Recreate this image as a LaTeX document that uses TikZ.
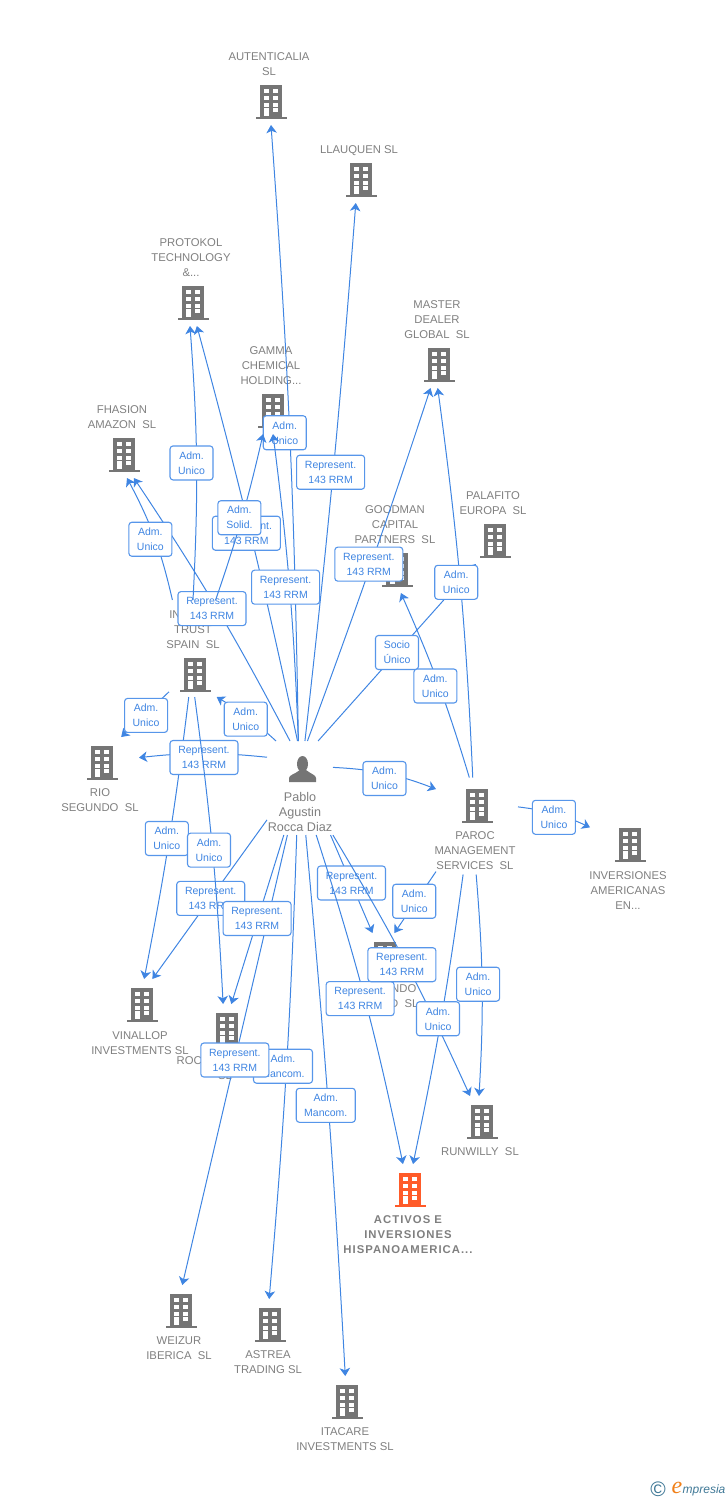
\documentclass[tikz,border=0pt]{standalone}
\usepackage{fontspec}
\setmainfont{Liberation Sans}
\newfontfamily\markfont{Liberation Serif}
\usepackage{tikz}
\usetikzlibrary{positioning, arrows.meta}

\definecolor{linkBlue}{HTML}{3F85E2}
\definecolor{boxBlue}{HTML}{5796EA}
\definecolor{iconGray}{HTML}{757575}
\definecolor{textGray}{HTML}{7F7F7F}
\definecolor{mainOrange}{HTML}{FF5B29}
\definecolor{markBlue}{HTML}{3F7896}
\definecolor{markOrange}{HTML}{F08019}

\tikzset{
    building/.pic={
        \fill[pic actions] (-11,-15.5) rectangle (11,17);
        \fill[pic actions] (-15.5,16) rectangle (15.5,18.5);
        \foreach \wy in {-11.5,-4.5,2.5}{
            \fill[white] (-7,\wy) rectangle (-2,\wy+4);
            \fill[white] (2,\wy) rectangle (7,\wy+4);
        }
        \fill[white] (-7,7.5) rectangle (-2,15.5);
        \fill[white] (2,7.5) rectangle (7,11.5);
    },
    person/.pic={
        \fill[pic actions] (-0.5,-5) ellipse (5.5 and 8);
        \fill[pic actions] (-14,13) -- (-14,9) .. controls (-14,6) and (-8,5) .. (-3,1) -- (3,1) .. controls (8,5) and (13,6) .. (13,9) -- (13,13) -- cycle;
    }
}

\begin{document}
\begin{tikzpicture}[x=1pt, y=-1pt,
    bldg/.style={minimum width=74pt, minimum height=49pt, inner sep=0pt, outer sep=0pt},
    srcbox/.style={inner sep=0pt, outer sep=0pt},
    grayicon/.style={fill=iconGray},
    ent/.style={font=\fontsize{11.3}{15}\selectfont, text=textGray, align=center, inner sep=0pt},
    rel/.style={draw=boxBlue, line width=1.1pt, fill=white, rounded corners=3pt, text=linkBlue, font=\fontsize{10.5}{15}\selectfont, align=center, inner sep=0pt, minimum height=34pt},
    repr/.style={rel, minimum width=68pt},
    adm/.style={rel, minimum width=43pt},
    manc/.style={rel, minimum width=59pt},
    msg/.style={-{Stealth[length=8pt, width=10.5pt, inset=2.2pt]}, draw=linkBlue, line width=1pt}]
    \useasboundingbox (0,0) rectangle (728,1500);

    % companies
    \node[bldg] (autenticalia) at (271,100.5) {};
    \pic[grayicon] at (autenticalia) {building};
    \node[ent, above=0pt of autenticalia, xshift=-2pt] (autenticaliaTxt) {AUTENTICALIA\\SL};

    \node[bldg] (llauquen) at (361,178.5) {};
    \pic[grayicon] at (llauquen) {building};
    \node[ent, above=-2pt of llauquen, xshift=-2pt] (llauquenTxt) {LLAUQUEN SL};

    \node[bldg] (protokol) at (193,301.5) {};
    \pic[grayicon] at (protokol) {building};
    \node[ent, above=0pt of protokol, xshift=-2pt] (protokolTxt) {PROTOKOL\\TECHNOLOGY\\\&...};

    \node[bldg] (master) at (439,363.5) {};
    \pic[grayicon] at (master) {building};
    \node[ent, above=0pt of master, xshift=-2pt] (masterTxt) {MASTER\\DEALER\\GLOBAL\ \ SL};

    \node[bldg] (gamma) at (273,409.5) {};
    \pic[grayicon] at (gamma) {building};
    \node[ent, above=0pt of gamma, xshift=-2pt] (gammaTxt) {GAMMA\\CHEMICAL\\HOLDING...};

    \node[bldg] (fhasion) at (124,453.5) {};
    \pic[grayicon] at (fhasion) {building};
    \node[ent, above=0pt of fhasion, xshift=-2pt] (fhasionTxt) {FHASION\\AMAZON\ \ SL};

    \node[bldg] (palafito) at (495,539.5) {};
    \pic[grayicon] at (palafito) {building};
    \node[ent, above=0pt of palafito, xshift=-2pt] (palafitoTxt) {PALAFITO\\EUROPA\ \ SL};

    \node[bldg] (goodman) at (397,568.5) {};
    \pic[grayicon] at (goodman) {building};
    \node[ent, above=0pt of goodman, xshift=-2pt] (goodmanTxt) {GOODMAN\\CAPITAL\\PARTNERS\ \ SL};

    \node[bldg] (trust) at (195,673.5) {};
    \pic[grayicon] at (trust) {building};
    \node[ent, above=0pt of trust, xshift=-2pt] (trustTxt) {IN\hspace*{36pt}\\TRUST\\SPAIN\ \ SL};
    \node[srcbox, minimum width=48pt, minimum height=97pt] (trustBox) at (193,648.5) {};

    \node[bldg] (rio) at (102,761.5) {};
    \pic[grayicon] at (rio) {building};
    \node[ent, below=2pt of rio, xshift=-2pt] (rioTxt) {RIO\\SEGUNDO\ \ SL};

    \node[bldg] (paroc) at (477,804.5) {};
    \pic[grayicon] at (paroc) {building};
    \node[ent, below=2pt of paroc, xshift=-2pt] (parocTxt) {PAROC\\MANAGEMENT\\SERVICES\ \ SL};
    \node[srcbox, minimum width=82pt, minimum height=97pt] (parocBox) at (477,826) {};

    \node[bldg, minimum width=80pt] (invam) at (630,843.5) {};
    \pic[grayicon] at (invam) {building};
    \node[ent, below=3pt of invam, xshift=-2pt] (invamTxt) {INVERSIONES\\AMERICANAS\\EN...};

    \node[bldg] (segundo) at (385,957.5) {};
    \pic[grayicon] at (segundo) {building};
    \node[ent, below=2pt of segundo, xshift=-2pt] (segundoTxt) {\hspace*{41.6pt}NDO\\\hspace*{42.5pt}D\ \ SL};

    \node[bldg] (vinallop) at (142,1003.5) {};
    \pic[grayicon] at (vinallop) {building};
    \node[ent, below=3pt of vinallop, xshift=-2pt] (vinallopTxt) {VINALLOP\\INVESTMENTS SL};

    \node[bldg] (roc) at (227,1028.5) {};
    \pic[grayicon] at (roc) {building};
    \node[ent, below=3pt of roc, xshift=-2pt] (rocTxt) {ROC\hspace*{71.6pt}\\SL};

    \node[bldg] (runwilly) at (482,1120.5) {};
    \pic[grayicon] at (runwilly) {building};
    \node[ent, below=2pt of runwilly, xshift=-2pt] (runwillyTxt) {RUNWILLY\ \ SL};

    \node[bldg] (activos) at (410,1188.5) {};
    \pic[fill=mainOrange] at (activos) {building};
    \node[ent, below=2pt of activos, xshift=-2pt] (activosTxt) {\addfontfeature{LetterSpace=9}\bfseries ACTIVOS E\\\addfontfeature{LetterSpace=9}\bfseries INVERSIONES\\\addfontfeature{LetterSpace=9}\bfseries HISPANOAMERICA...};

    \node[bldg] (weizur) at (181,1309.5) {};
    \pic[grayicon] at (weizur) {building};
    \node[ent, below=3pt of weizur, xshift=-2pt] (weizurTxt) {WEIZUR\\IBERICA\ \ SL};

    \node[bldg] (astrea) at (270,1323.5) {};
    \pic[grayicon] at (astrea) {building};
    \node[ent, below=2pt of astrea, xshift=-2pt] (astreaTxt) {ASTREA\\TRADING SL};

    \node[bldg] (itacare) at (347,1400.5) {};
    \pic[grayicon] at (itacare) {building};
    \node[ent, below=2pt of itacare, xshift=-2pt] (itacareTxt) {ITACARE\\INVESTMENTS SL};

    % the person
    \node[srcbox, minimum width=66pt, minimum height=94pt] (pablo) at (300,788) {};
    \pic[grayicon] at (303,769) {person};
    \node[ent, font=\fontsize{12.6}{15}\selectfont] (pabloTxt) at (300,812) {Pablo\\Agustin\\Rocca Diaz};

    % links, upper left
    \path (pablo.102) edge[msg, bend right=3] node[repr, xshift=-4pt, yshift=-1.5pt] {Represent.\\143 RRM} (fhasion.292.2);
    \path (trustBox.113.4) edge[msg, bend right=7.5] node[adm, xshift=-4pt, yshift=-2pt] {Adm.\\Unico} (fhasion.277);
    \path (pablo.92.4) edge[msg, bend right=1.6] node[adm, xshift=-5pt] {Adm.\\Unico} (autenticalia.270);
    \path (pablo.84) edge[msg, bend right=1] node[repr, xshift=-2.5pt] {Represent.\\143 RRM} (llauquen.258.5);
    \path (pablo.93.6) edge[msg, bend right=1.5] node[repr, xshift=-4pt, yshift=-0.5pt] {Represent.\\143 RRM} (protokol.279.3);
    \path (trustBox.90) edge[msg, bend right=3.6] node[adm, xshift=-5pt] {Adm.\\Unico} (protokol.263);
    \path (pablo.92.4) edge[msg, bend right=2.5] node[repr, xshift=-4pt] {Represent.\\143 RRM} (gamma.270);
    \path (trustBox.65.6) edge[msg, bend right=3] node[adm, xshift=-2.5pt] {Adm.\\Solid.} (gamma.248.8);

    % links, upper right
    \path (pablo.81.5) edge[msg, bend right=1] node[repr, xshift=-2pt, yshift=1pt] {Represent.\\143 RRM} (master.251.9);
    \path (pablo.69) edge[msg] node[adm] {Socio\\Único} (palafito.232.2);
    \path (parocBox.95.9) edge[msg, bend right=2.5] node[adm, xshift=-4pt] {Adm.\\Unico} (master.267.7);
    \path (parocBox.99.4) edge[msg, bend right=3.5] node[adm, xshift=-3pt, yshift=-2pt] {Adm.\\Unico} (goodman.279.3);

    % links, left
    \path (pablo.117) edge[msg, bend right=6] node[adm, xshift=-2pt, yshift=-2pt] {Adm.\\Unico} (trustBox.-64.6);
    \path (trustBox.241.7) edge[msg] node[adm, xshift=1pt, yshift=-1pt] {Adm.\\Unico} (rio.52.2);
    \path (trustBox.265.3) edge[msg, bend left=2] node[adm, xshift=-2.5pt] {Adm.\\Unico} (vinallop.85.3);
    \path (pablo.137.7) edge[msg, bend right=6] node[repr, xshift=1pt, yshift=-4pt] {Represent.\\143 RRM} (rio.6.9);
    \path (pablo.224) edge[msg] node[repr, xshift=1pt, yshift=1pt] {Represent.\\143 RRM} (vinallop.67.8);
    \path (trustBox.272.4) edge[msg, bend left=2.3] node[adm, xshift=-3.5pt] {Adm.\\Unico} (roc.99.3);

    % links, down
    \path (pablo.266.3) edge[msg, bend left=1.5] node[manc, xshift=-3.5pt, yshift=1pt] {Adm.\\Mancom.} (astrea.92.3);
    \path (pablo.255.7) edge[msg] node[repr] {Represent.\\143 RRM} (weizur.87.7);
    \path (pablo.251.2) edge[msg] node[repr, xshift=-0.5pt, yshift=1pt] {Represent.\\143 RRM} (roc.80.7);
    \path (pablo.277.3) edge[msg, bend left=1] node[manc, xshift=-2.5pt] {Adm.\\Mancom.} (itacare.94.7);

    % links, lower right
    \path (pablo.303.4) edge[msg] node[repr, yshift=1pt] {Represent.\\143 RRM} (segundo.117.9);
    \path (parocBox.228.9) edge[msg] node[adm, xshift=-1pt, yshift=1pt] {Adm.\\Unico} (segundo.69.8);
    \path (pablo.289.9) edge[msg, bend left=3] node[repr, xshift=-4.5pt, yshift=-0.5pt] {Represent.\\143 RRM} (activos.106);
    \path (pablo.305) edge[msg, bend left=3.3] node[repr, xshift=-4pt, yshift=-1.5pt] {Represent.\\143 RRM} (runwilly.116.1);
    \path (parocBox.254) edge[msg, bend left=2] node[adm, xshift=-3pt, yshift=1pt] {Adm.\\Unico} (activos.83);
    \path (parocBox.269) edge[msg, bend left=4] node[adm, xshift=-4pt, yshift=1pt] {Adm.\\Unico} (runwilly.97);
    \path (pablo.32.5) edge[msg, bend left=9] node[adm, xshift=-1pt, yshift=-5pt] {Adm.\\Unico} (parocBox.138.7);
    \path (parocBox.25) edge[msg, bend left=9] node[adm, xshift=-1pt, yshift=-3.5pt] {Adm.\\Unico} (invam.158.8);

    % corner mark
    \node[text=markBlue, font=\fontsize{21}{21}\selectfont, inner sep=0pt] (markCopy) at (658,1489.5) {©};
    \node[text=markOrange, font=\markfont\itshape\fontsize{24}{24}\selectfont, inner sep=0pt] (markE) at (677,1488) {e};
    \node[text=markBlue, font=\itshape\fontsize{12}{14}\selectfont, inner sep=0pt] (markWord) at (704,1490) {mpresia};
\end{tikzpicture}
\end{document}
